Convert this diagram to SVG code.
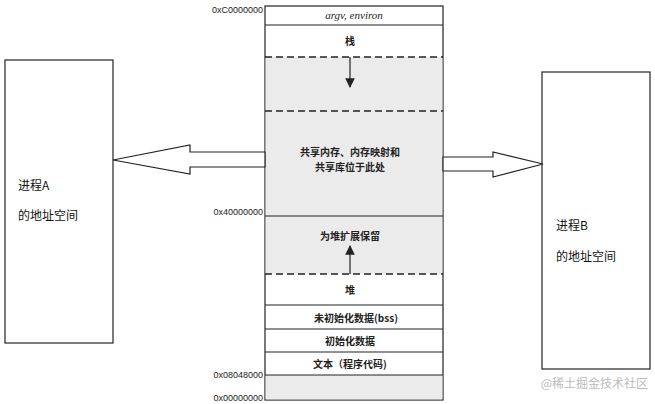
<svg xmlns="http://www.w3.org/2000/svg" width="655" height="404" viewBox="0 0 655 404">
<style>
.b{fill:#fff;stroke:#222;stroke-width:1.2}
.g{fill:#ebebeb;stroke:none}
.l{stroke:#222;stroke-width:1.2;fill:none}
.d{stroke:#222;stroke-width:1.4;stroke-dasharray:7,4;fill:none}
.t{font-family:"Noto Sans CJK SC","Liberation Serif",serif;font-size:10px;font-weight:bold;fill:#222;text-anchor:middle}
.a{font-family:"Liberation Sans",Arial,sans-serif;font-size:9px;fill:#222;text-anchor:end}
.p{font-family:"Noto Sans CJK SC",sans-serif;font-size:12px;fill:#111}
</style>
<defs><marker id="ah" viewBox="0 0 10 10" refX="9" refY="5" markerWidth="8" markerHeight="8" orient="auto"><path d="M0,0L10,5L0,10z" fill="#222"/></marker></defs>
<rect width="655" height="404" fill="#fff"/>
<g id="procA"><rect class="b" x="5" y="60" width="108" height="283"/><text class="p" x="18" y="190">进程A</text><text class="p" x="18" y="220">的地址空间</text></g>
<g id="procB"><rect class="b" x="542" y="72" width="108" height="297"/><text class="p" x="556" y="230">进程B</text><text class="p" x="556" y="261">的地址空间</text></g>
<g id="memory">
<rect class="b" x="265" y="6" width="178" height="394"/>
<rect class="g" x="265.6" y="57" width="176.8" height="159"/>
<rect class="g" x="265.6" y="216" width="176.8" height="58"/>
<rect class="g" x="265.6" y="375" width="176.8" height="24.4"/>
<line class="l" x1="265" y1="25" x2="443" y2="25"/>
<line class="d" x1="265" y1="57" x2="443" y2="57"/>
<line class="d" x1="265" y1="111" x2="443" y2="111"/>
<line class="l" x1="265" y1="216" x2="443" y2="216"/>
<line class="d" x1="265" y1="274" x2="443" y2="274"/>
<line class="l" x1="265" y1="305" x2="443" y2="305"/>
<line class="l" x1="265" y1="329" x2="443" y2="329"/>
<line class="l" x1="265" y1="352" x2="443" y2="352"/>
<line class="l" x1="265" y1="375" x2="443" y2="375"/>
<text x="354" y="19" style="font-family:'Liberation Serif',serif;font-style:italic;font-size:11px;fill:#222" text-anchor="middle">argv, environ</text>
<text class="t" x="350" y="45">栈</text>
<text class="t" x="350" y="156">共享内存、内存映射和</text>
<text class="t" x="350" y="171">共享库位于此处</text>
<text class="t" x="350" y="240">为堆扩展保留</text>
<text class="t" x="350" y="294">堆</text>
<text class="t" x="356" y="322">未初始化数据(bss)</text>
<text class="t" x="350" y="345">初始化数据</text>
<text class="t" x="350" y="368">文本（程序代码)</text>
<text class="a" x="263" y="13">0xC0000000</text>
<text class="a" x="263" y="215">0x40000000</text>
<text class="a" x="263" y="378">0x08048000</text>
<text class="a" x="263" y="401">0x00000000</text>
</g>
<g id="connectors">
<line class="l" x1="350" y1="57" x2="350" y2="87" marker-end="url(#ah)"/>
<line class="l" x1="350" y1="274" x2="350" y2="246" marker-end="url(#ah)"/>
<path class="b" d="M265,152L190,152L190,145L113,160L190,174L190,167L265,167z"/>
<path class="b" d="M443,157L493,157L493,152L543,164L493,177L493,171L443,171z"/>
</g>
<text x="648" y="388" style="font-family:'Noto Sans CJK SC',sans-serif;font-size:12px;fill:#bbb" text-anchor="end">@稀土掘金技术社区</text>
</svg>
